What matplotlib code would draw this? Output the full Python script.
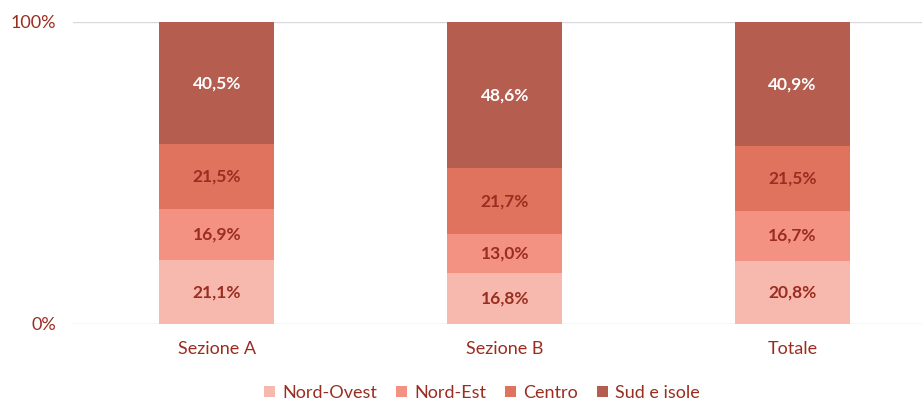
import matplotlib
matplotlib.use("Agg")
import matplotlib.pyplot as plt
import numpy as np

plt.rcParams['font.family'] = ['Lato', 'DejaVu Sans']

categories = ["Sezione A", "Sezione B", "Totale"]
series_names = ["Nord-Ovest", "Nord-Est", "Centro", "Sud e isole"]
nord_ovest = [21.1, 16.8, 20.8]
nord_est = [16.9, 13.0, 16.7]
centro = [21.5, 21.7, 21.5]
sud_isole = [40.5, 48.6, 40.9]
series = [nord_ovest, nord_est, centro, sud_isole]
colors = ["#F7B9AE", "#F39182", "#E0735D", "#B55D4F"]
label_colors = ["#9B2D20", "#9B2D20", "#9B2D20", "white"]
text_color = "#9B2D20"

fig = plt.figure(figsize=(9.22, 4.01), dpi=100)
ax = fig.add_axes([73/922, 1-324/401, 849/922, 302/401])

x = np.arange(len(categories))
bottom = np.zeros(len(categories))
handles = []
for vals, c, lc, name in zip(series, colors, label_colors, series_names):
    vals = np.array(vals)
    b = ax.bar(x, vals, 0.4, bottom=bottom, color=c, label=name, zorder=2)
    handles.append(b)
    for xi, v, bt in zip(x, vals, bottom):
        ax.text(xi, bt + v/2, f"{v:.1f}%".replace('.', ','), ha='center', va='center',
                color=lc, fontsize=12.5, fontweight='bold', zorder=3)
    bottom += vals

ax.set_xlim(-0.5, 2.45)
ax.set_ylim(0, 100)
ax.set_yticks([0, 100])
ax.set_yticklabels(["0%", "100%"])
ax.set_xticks(x)
ax.set_xticklabels(categories)
ax.tick_params(axis='both', length=0, labelsize=13, colors=text_color)
ax.tick_params(axis='y', pad=12)
ax.tick_params(axis='x', pad=12)
for s in ax.spines.values():
    s.set_visible(False)
ax.axhline(100, color="#D9D9D9", lw=1, zorder=1)
ax.axhline(0, color="#D9D9D9", lw=1, zorder=1)

leg = fig.legend(handles=handles, labels=series_names, loc='center', bbox_to_anchor=(482/922, 1-393/401),
                 ncol=4, frameon=False, fontsize=13, handlelength=0.6, handleheight=0.6,
                 handletextpad=0.4, columnspacing=1.05)
for t in leg.get_texts():
    t.set_color(text_color)

fig.savefig("out.png", dpi=100)
